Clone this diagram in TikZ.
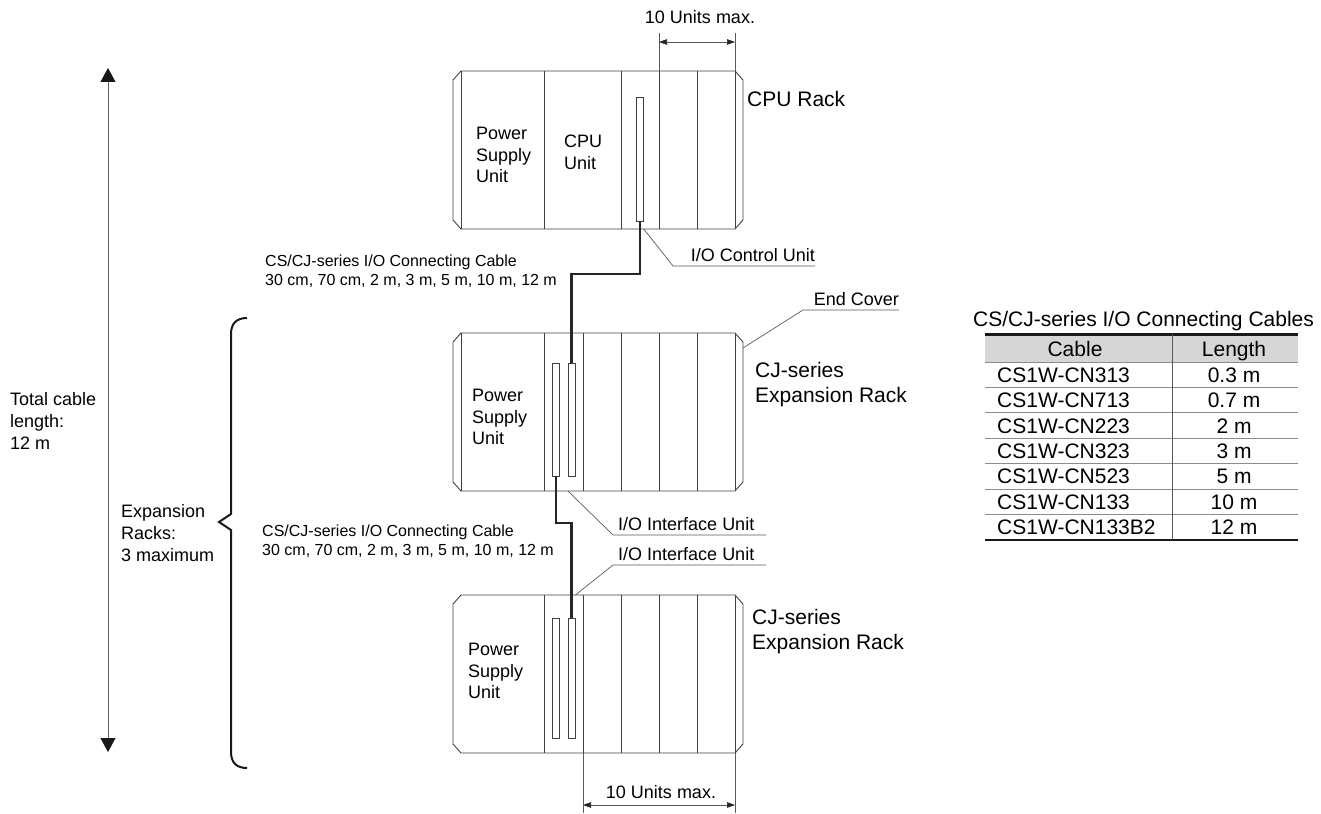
\documentclass[tikz,border=0pt]{standalone}
\usepackage{fontspec}
\setmainfont{Liberation Sans}
\usepackage{tikz}
\usetikzlibrary{arrows.meta}
\usetikzlibrary{positioning}
\definecolor{rackgray}{rgb}{0.25, 0.25, 0.25}
\definecolor{leadgray}{rgb}{0.35, 0.35, 0.35}
\definecolor{headgray}{rgb}{0.84, 0.84, 0.84}
\newcommand{\rackfont}{\fontsize{21}{25}\selectfont}
\newcommand{\unitfont}{\fontsize{18}{21.7}\selectfont}
\newcommand{\cablefont}{\fontsize{16}{19}\selectfont}
\tikzset{rackline/.style = {draw=rackgray, line width=0.9pt}}
\tikzset{rackbox/.style = {minimum width=274pt, minimum height=158pt,
                           inner sep=0pt, outer sep=0pt}}
\tikzset{slot/.style = {draw=rackgray, line width=0.9pt, fill=white,
                        minimum width=7.5pt, inner sep=0pt, outer sep=0pt}}
\tikzset{cable/.style = {draw=black!85, line width=2.9pt}}
\tikzset{leader/.style = {draw=leadgray, line width=0.7pt}}
\tikzset{txt/.style = {font=\unitfont, align=left, anchor=west, inner sep=0pt}}
\tikzset{tagright/.style = {font=\unitfont, anchor=south east, inner xsep=0pt,
                            inner ysep=4pt, text depth=0pt}}
\tikzset{tagleft/.style = {font=\unitfont, anchor=south west, inner xsep=0pt,
                           inner ysep=4pt, text depth=0pt}}
\tikzset{dimarrow/.style = {draw=leadgray, line width=0.7pt,
                            arrows={Triangle[length=8pt,width=5.5pt,color=black!85]-Triangle[length=8pt,width=5.5pt,color=black!85]}}}
\tikzset{bigarrow/.style = {draw=black!60, line width=0.8pt,
                            arrows={Triangle[length=14pt,width=15pt,color=black!90]-Triangle[length=14pt,width=15pt,color=black!90]}}}
\tikzset{brace/.style = {draw=black!90, line width=2pt}}
\tikzset{cell/.style = {font=\rackfont, inner sep=0pt, text height=15pt, text depth=0pt}}
\tikzset{rowrule/.style = {draw=black!45, line width=0.8pt}}
\tikzset{tabrule/.style = {draw=black!90, line width=2.4pt}}

\begin{document}
\begin{tikzpicture}[x=1pt, y=-1pt]
    \useasboundingbox (0, 0) rectangle (1321, 813);

    % racks
    \node [rackbox] (cpu) at (598, 150) {};
    \node [rackbox] (exp1) at (598, 412) {};
    \node [rackbox] (exp2) at (598, 674) {};

    \foreach \rk in {cpu, exp1, exp2}
        \draw [rackline] (\rk.north west) -- ++(-8, 9) -- ++(0, 140) -- (\rk.south west)
            -- (\rk.south east) -- ++(8, -9) -- ++(0, -140) -- (\rk.north east) -- cycle;
    \foreach \rk in {cpu, exp1, exp2}
        \draw [rackline] (\rk.north east) -- (\rk.south east);
    \foreach \rk in {cpu, exp1}
        \draw [rackline] (\rk.north west) -- (\rk.south west);

    \foreach \dx in {83, 160, 198, 236}
        \draw [rackline] (cpu.north west) ++(\dx, 0) -- ++(0, 158);
    \foreach \rk in {exp1, exp2}
        \foreach \dx in {83, 122, 160, 198, 236}
            \draw [rackline] (\rk.north west) ++(\dx, 0) -- ++(0, 158);

    % connectors and cables
    \node [slot, minimum height=124pt] (cpuslot) at (640, 159) {};
    \node [slot, minimum height=113pt] (exp1in) at (571.7, 419.5) {};
    \node [slot, minimum height=113pt] (exp1out) at (556, 419.5) {};
    \node [slot, minimum height=120pt] (exp2in) at (571.7, 678) {};
    \node [slot, minimum height=120pt] (exp2out) at (556, 678) {};

    \draw [cable] (cpuslot.south) -- ++(0, 53) -| (exp1in.north);
    \draw [cable] (exp1out.south) -- ++(0, 47) -| (exp2in.north);

    % unit and rack names
    \node [txt] (cpups) at (476, 155) {Power\\Supply\\Unit};
    \node [txt] (cpuunit) at (564, 152.5) {CPU\\Unit};
    \node [txt] (exp1ps) at (472, 417) {Power\\Supply\\Unit};
    \node [txt] (exp2ps) at (468, 671) {Power\\Supply\\Unit};
    \node [txt, font=\rackfont] (cpuname) at (747, 99) {CPU Rack};
    \node [txt, font=\rackfont] (exp1name) at (755, 385) {CJ-series\\Expansion Rack};
    \node [txt, font=\rackfont] (exp2name) at (752, 632) {CJ-series\\Expansion Rack};

    \node [txt, font=\cablefont] (cable1) at (265, 271)
        {CS/CJ-series I/O Connecting Cable\\30 cm, 70 cm, 2 m, 3 m, 5 m, 10 m, 12 m};
    \node [txt, font=\cablefont] (cable2) at (262, 541)
        {CS/CJ-series I/O Connecting Cable\\30 cm, 70 cm, 2 m, 3 m, 5 m, 10 m, 12 m};

    % leaders
    \coordinate (ctlknee) at (673, 266);
    \node [tagright] (ctltag) at (815, 266) {I/O Control Unit};
    \draw [leader] (cpuslot.south east |- cpu.south) -- (ctlknee) -- (ctltag.south east);

    \coordinate (endknee) at (803, 310);
    \node [tagright] (endtag) at (899, 310) {End Cover};
    \draw [leader] (exp1.north east) ++(8, 15) -- (endknee) -- (endtag.south east);

    \coordinate (if1knee) at (613, 535);
    \coordinate (if1end) at (766, 535);
    \node [tagleft] (if1tag) at (618, 535) {I/O Interface Unit};
    \draw [leader] (exp1in.south west |- exp1.south) -- (if1knee) -- (if1end);

    \coordinate (if2knee) at (613, 565);
    \coordinate (if2end) at (766, 565);
    \node [tagleft] (if2tag) at (618, 565) {I/O Interface Unit};
    \draw [leader] (exp2in.north east |- exp2.north) -- (if2knee) -- (if2end);

    % 10 units max.
    \draw [leader] (cpu.north west) ++(198, 0) -- ++(0, -38);
    \draw [leader] (cpu.north east) -- ++(0, -38);
    \draw [dimarrow] (659, 42) -- (735, 42);
    \node [txt, anchor=center] (topunits) at (700, 17) {10 Units max.};

    \draw [leader] (exp2.south west) ++(122, 0) -- ++(0, 60);
    \draw [leader] (exp2.south east) -- ++(0, 60);
    \draw [dimarrow] (583, 805) -- (735, 805);
    \node [txt, anchor=center] (botunits) at (661, 792) {10 Units max.};

    % total length and brace
    \coordinate (lentop) at (108, 68);
    \coordinate (lenbot) at (108, 752);
    \draw [bigarrow] (lentop) -- (lenbot);
    \node [txt] (totallen) at (10, 421) {Total cable\\length:\\12 m};

    \draw [brace] (247, 318) .. controls (237, 318) and (231, 323) .. (231, 334) -- (231, 514)
        -- (219, 522) -- (231, 530) -- (231, 752) .. controls (231, 763) and (237, 768) .. (247, 768);
    \node [txt] (exprk) at (121, 533) {Expansion\\Racks:\\3 maximum};

    % cable table
    \node [txt, font=\rackfont, anchor=center] (tabtitle) at (1143.5, 321) {CS/CJ-series I/O Connecting Cables};
    \fill [headgray] (985, 334) rectangle (1297.5, 362);
    \node [cell] (hcable) at (1075, 349) {Cable};
    \node [cell] (hlength) at (1234, 349) {Length};
    \foreach \cab/\len [count=\i] in {CS1W-CN313/0.3 m, CS1W-CN713/0.7 m, CS1W-CN223/2 m,
                                      CS1W-CN323/3 m, CS1W-CN523/5 m, CS1W-CN133/10 m,
                                      CS1W-CN133B2/12 m} {
        \node [cell, anchor=west] (cab\i) at (997, {349.3 + 25.43*\i}) {\cab};
        \node [cell] (len\i) at (1234, {349.3 + 25.43*\i}) {\len};
    }
    \foreach \i in {0, ..., 6}
        \draw [rowrule] (985, {362 + 25.43*\i}) -- (1297.5, {362 + 25.43*\i});
    \draw [tabrule] (985, 334.3) -- (1297.5, 334.3);
    \draw [tabrule] (985, 540) -- (1297.5, 540);
    \draw [leader] (1172.5, 334) -- (1172.5, 540);
\end{tikzpicture}
\end{document}
